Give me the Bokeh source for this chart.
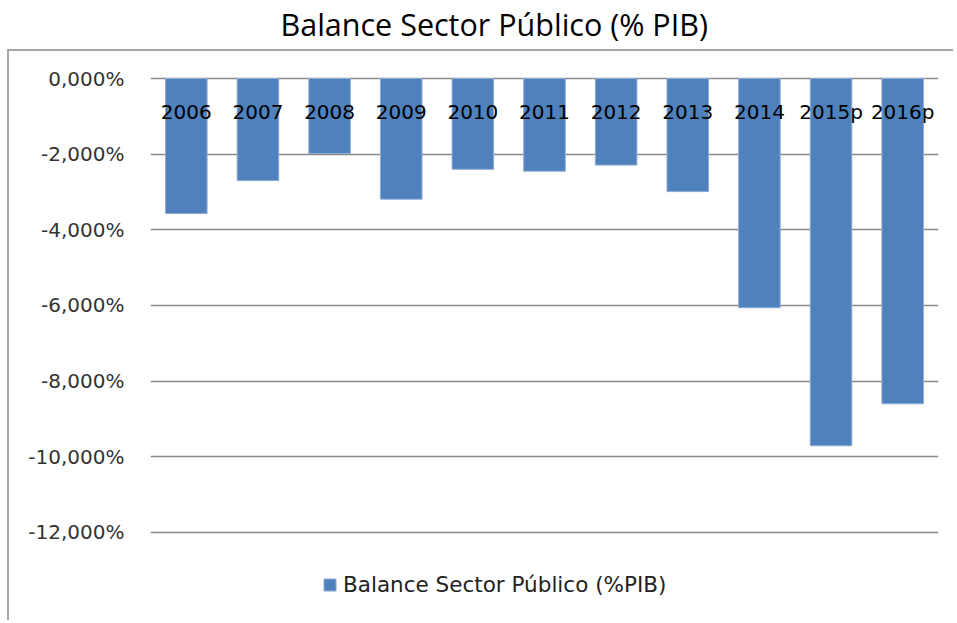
from bokeh.plotting import figure
from bokeh.layouts import column, row
from bokeh.models import (ColumnDataSource, FactorRange, Range1d, FixedTicker,
                          Legend, LegendItem, CategoricalAxis, Spacer)
from bokeh.embed import file_html
from bokeh.resources import INLINE

title_text = "Balance Sector Público (% PIB)"
series_name = "Balance Sector Público (%PIB)"
years = ["2006", "2007", "2008", "2009", "2010", "2011", "2012", "2013", "2014", "2015p", "2016p"]
balance = [-3.57, -2.70, -1.98, -3.19, -2.40, -2.45, -2.29, -2.99, -6.06, -9.71, -8.60]
y_ticks = [0, -2, -4, -6, -8, -10, -12]
y_tick_labels = ["0,000%", "-2,000%", "-4,000%", "-6,000%", "-8,000%", "-10,000%", "-12,000%"]

# ---- title strip (outside the chart-area border) ----
tf = figure(width=955, height=49, output_backend="svg", toolbar_location=None,
            x_axis_location=None, y_axis_location=None,
            min_border_left=0, min_border_right=0, min_border_top=0, min_border_bottom=0)
tf.outline_line_color = None
tf.grid.visible = False
tf.title.text = title_text
tf.title.text_font = "Open Sans"
tf.title.text_font_size = "30.5px"
tf.title.text_font_style = "normal"
tf.title.text_color = "black"
tf.title.align = "left"
tf.title.offset = 280

# ---- main chart ----
src = ColumnDataSource(dict(year=years, value=balance))

p = figure(width=946, height=571, output_backend="svg", toolbar_location=None,
           x_range=FactorRange(*years, range_padding=0), y_range=Range1d(-14.33, 0.106),
           x_axis_location=None, min_border_left=141, min_border_right=17,
           min_border_top=23, min_border_bottom=2,
           styles={"border-left": "2px solid #a6a6a6", "border-top": "2px solid #a6a6a6"})
p.outline_line_color = None
p.background_fill_color = "white"
p.border_fill_color = "white"

r = p.vbar(x="year", top="value", bottom=0, width=0.58, source=src,
           fill_color="#4f81bd", line_color="#8eaad6", line_width=1)

xaxis = CategoricalAxis()
xaxis.axis_line_color = None
xaxis.major_tick_line_color = None
xaxis.minor_tick_line_color = None
xaxis.major_tick_out = 0
xaxis.major_label_standoff = -49
xaxis.major_label_text_font = "DejaVu Sans"
xaxis.major_label_text_font_size = "20px"
xaxis.major_label_text_color = "black"
p.add_layout(xaxis, "above")

yaxis = p.yaxis[0]
yaxis.ticker = FixedTicker(ticks=y_ticks)
yaxis.major_label_overrides = {t: l for t, l in zip(y_ticks, y_tick_labels)}
yaxis.axis_line_color = None
yaxis.major_tick_line_color = None
yaxis.minor_tick_line_color = None
yaxis.major_tick_out = 0
yaxis.major_label_standoff = 26
yaxis.major_label_text_font = "DejaVu Sans"
yaxis.major_label_text_font_size = "20px"
yaxis.major_label_text_color = "#333333"

p.xgrid.grid_line_color = None
p.ygrid.ticker = FixedTicker(ticks=y_ticks)
p.ygrid.grid_line_color = "#8a8a8a"
p.ygrid.grid_line_width = 1.3

legend = Legend(items=[LegendItem(label=series_name, renderers=[r])],
                location=(172, 23), orientation="horizontal",
                glyph_width=15, glyph_height=15, label_standoff=6,
                padding=0, margin=0, border_line_color=None,
                background_fill_alpha=0,
                label_text_font="DejaVu Sans", label_text_font_size="21.5px",
                label_text_color="#222222")
p.add_layout(legend, "center")

layout = column(tf, row(Spacer(width=7), p, spacing=0), spacing=0)

open("out.html", "w").write(file_html(layout, INLINE))
